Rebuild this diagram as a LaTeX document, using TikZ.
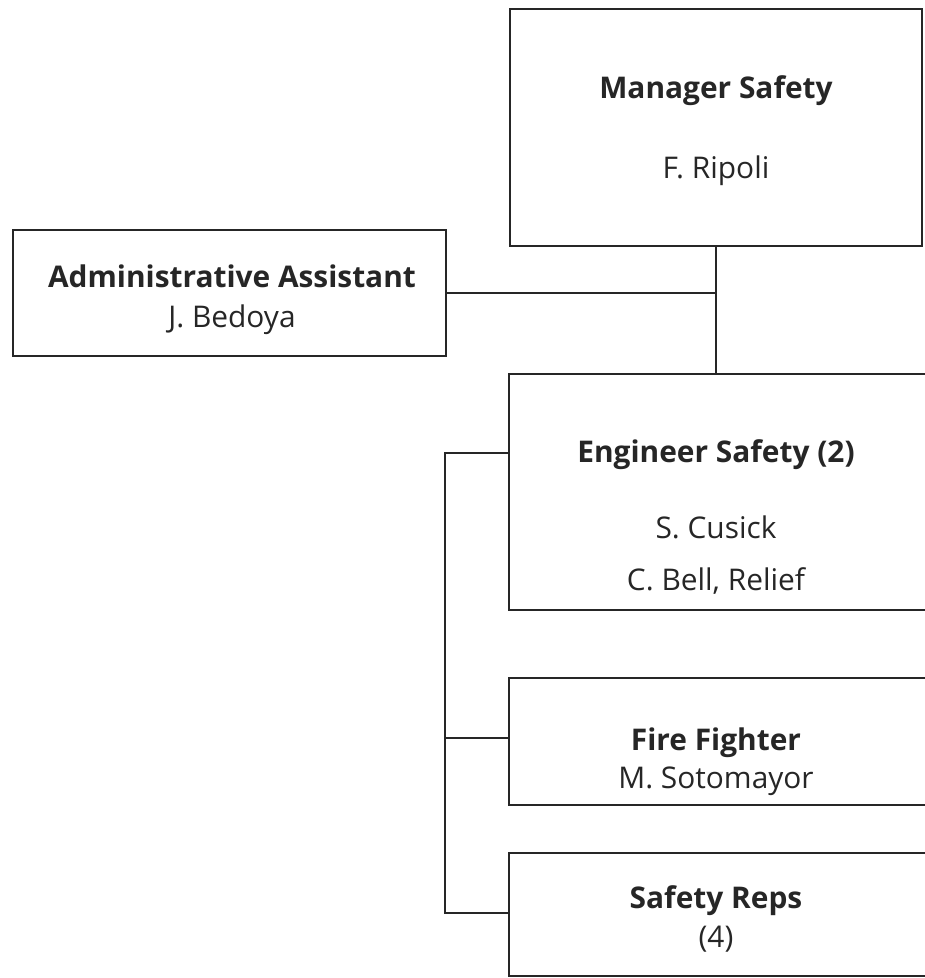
\documentclass[tikz,border=0pt]{standalone}
\usepackage{fontspec}
\setmainfont{Open Sans}
\usetikzlibrary{positioning}

\begin{document}
\begin{tikzpicture}[
    x=0.02cm, y=-0.02cm,
    link/.style={draw=black!85, line width=1.1pt},
    box/.style={draw=black!85, line width=1.1pt, rectangle, inner sep=0pt},
    title/.style={font=\fontsize{17}{20}\selectfont\bfseries, anchor=base, inner sep=0pt, text=black!85},
    who/.style={font=\fontsize{17}{20}\selectfont, anchor=base, inner sep=0pt, text=black!85}]

    \useasboundingbox (0,0) rectangle (925,978);

    \node[box, minimum width=8.24cm, minimum height=4.74cm] (mgr) at (716,127.5) {};
    \node[box, minimum width=8.67cm, minimum height=2.52cm] (adm) at (229.25,293) {};
    \node[box, minimum width=8.6cm, minimum height=4.72cm] (eng) at (724,492) {};
    \node[box, minimum width=8.6cm, minimum height=2.54cm] (fire) at (724,741.5) {};
    \node[box, minimum width=8.6cm, minimum height=2.46cm] (reps) at (724,914.5) {};

    \node[title] (mgrT) at (716,98) {Manager Safety};
    \node[who] (mgrN) at (716,178) {F. Ripoli};
    \node[title] (admT) at (232,287) {Administrative Assistant};
    \node[who] (admN) at (232,327) {J. Bedoya};
    \node[title] (engT) at (716,462) {Engineer Safety (2)};
    \node[who] (engN1) at (716,538) {S. Cusick};
    \node[who] (engN2) at (716,590) {C. Bell, Relief};
    \node[title] (fireT) at (716,750) {Fire Fighter};
    \node[who] (fireN) at (716,788) {M. Sotomayor};
    \node[title] (repsT) at (716,908) {Safety Reps};
    \node[who] (repsN) at (716,947) {(4)};

    \coordinate (busT) at (445,453);
    \coordinate (busM) at (445,738);
    \coordinate (busB) at (445,913);

    \draw[link] (mgr.south) -- (mgr.south |- eng.north);
    \draw[link] (adm.east) -- (adm.east -| mgr.south);
    \draw[link] (busT -| eng.west) -- (busT) -- (busB) -- (busB -| reps.west);
    \draw[link] (busM) -- (busM -| fire.west);

\end{tikzpicture}
\end{document}
